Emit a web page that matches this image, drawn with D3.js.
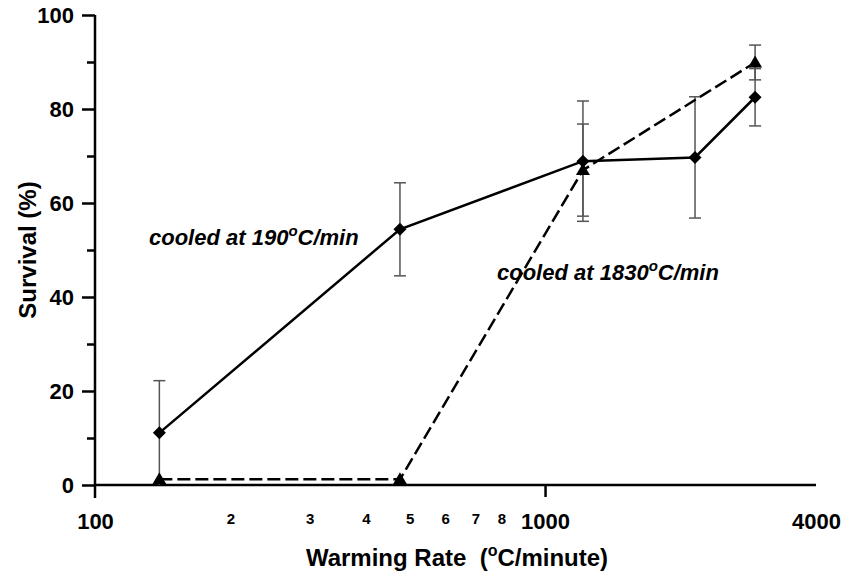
<!DOCTYPE html>
<html>
<head>
<meta charset="utf-8">
<script src="https://cdn.jsdelivr.net/npm/d3@7"></script>
<style>
  body { margin: 0; background: #fff; }
  svg text { font-family: "Liberation Sans", Arial, sans-serif; font-weight: bold; fill: #000; }
</style>
</head>
<body>
<div id="chart"></div>
<script>
// data
var rates190 = [139, 476, 1214, 2154, 2929];
var survival190 = [11.1, 54.4, 68.9, 69.7, 82.5];
var err190 = [11.1, 9.9, 12.8, 12.9, 6.1];

var rates1830 = [139, 476, 1214, 2929];
var survival1830 = [1.2, 1.2, 67, 89.9];
var err1830 = [0, 0, 9.8, 3.7];

var yTicks = [0, 20, 40, 60, 80, 100];
var yMinor = [10, 30, 50, 70, 90];
var xTicks = [100, 200, 300, 400, 500, 600, 700, 800, 1000, 4000];
var xLabels = ["100", "2", "3", "4", "5", "6", "7", "8", "1000", "4000"];

var svgWidth = 846;
var svgHeight = 581;

var svg = d3.select("#chart")
  .append("svg")
  .attr("width", svgWidth)
  .attr("height", svgHeight);

var xScale = d3.scaleLog()
  .domain([100, 4000])
  .range([95, 816]);

var yScale = d3.scaleLinear()
  .domain([0, 100])
  .range([485, 15]);

// y axis
var leftAxis = d3.axisLeft(yScale)
  .tickValues(yTicks)
  .tickSize(13)
  .tickSizeOuter(0)
  .tickPadding(8);

var yAxis = svg.append("g")
  .attr("transform", "translate(95,0)")
  .call(leftAxis);
yAxis.select(".domain").remove();
yAxis.selectAll("line").attr("stroke-width", 2.5);
yAxis.selectAll("text").style("font-size", "22px");

svg.append("g")
  .attr("transform", "translate(95,0)")
  .call(d3.axisLeft(yScale).tickValues(yMinor).tickSize(8).tickFormat(""))
  .call(g => g.select(".domain").remove())
  .selectAll("line").attr("stroke-width", 2.5);

svg.append("line")
  .attr("x1", 95).attr("x2", 95)
  .attr("y1", yScale(100)).attr("y2", yScale(0) + 13)
  .attr("stroke", "#000").attr("stroke-width", 2.5);

// x axis
svg.append("line")
  .attr("x1", xScale(100)).attr("x2", xScale(4000))
  .attr("y1", yScale(0)).attr("y2", yScale(0))
  .attr("stroke", "#000").attr("stroke-width", 2.5);

svg.append("g")
  .attr("transform", `translate(0,${yScale(0)})`)
  .call(d3.axisBottom(xScale).tickValues([1000]).tickSize(12).tickFormat(""))
  .call(g => g.select(".domain").remove())
  .selectAll("line").attr("stroke-width", 2.5);

var xAxis = svg.append("g")
  .attr("transform", `translate(0,${yScale(0)})`)
  .call(d3.axisBottom(xScale)
    .tickValues(xTicks)
    .tickSize(0)
    .tickPadding(28)
    .tickFormat((d, i) => xLabels[i]));
xAxis.select(".domain").remove();
xAxis.selectAll("text")
  .style("font-size", (d, i) => xLabels[i].length > 1 ? "22px" : "15px");

// axis titles
svg.append("text")
  .attr("transform", "translate(36,250) rotate(-90)")
  .attr("text-anchor", "middle")
  .style("font-size", "24px")
  .text("Survival (%)");

var xTitle = svg.append("text")
  .attr("x", 457)
  .attr("y", 566)
  .attr("text-anchor", "middle")
  .attr("xml:space", "preserve")
  .style("font-size", "24px");
xTitle.append("tspan").text("Warming Rate  (");
xTitle.append("tspan").attr("dy", -10).style("font-size", "16px").text("o");
xTitle.append("tspan").attr("dy", 10).text("C/minute)");

// error bars
function drawErrors(rates, vals, errs) {
  var g = svg.append("g");
  rates.forEach(function(r, i) {
    if (errs[i] <= 0) return;
    var x = xScale(r);
    var top = yScale(vals[i] + errs[i]);
    var bot = yScale(Math.max(0, vals[i] - errs[i]));
    g.append("line").attr("x1", x).attr("x2", x).attr("y1", top).attr("y2", bot)
      .attr("stroke", "#555").attr("stroke-width", 1.5);
    g.append("line").attr("x1", x - 6).attr("x2", x + 6).attr("y1", top).attr("y2", top)
      .attr("stroke", "#555").attr("stroke-width", 1.5);
    if (vals[i] - errs[i] > 0.5) {
      g.append("line").attr("x1", x - 6).attr("x2", x + 6).attr("y1", bot).attr("y2", bot)
        .attr("stroke", "#555").attr("stroke-width", 1.5);
    }
  });
}
drawErrors(rates190, survival190, err190);
drawErrors(rates1830, survival1830, err1830);

var line = d3.line()
  .x(d => xScale(d[0]))
  .y(d => yScale(d[1]));

var pts190 = rates190.map((r, i) => [r, survival190[i]]);
var pts1830 = rates1830.map((r, i) => [r, survival1830[i]]);

svg.append("path")
  .datum(pts1830)
  .attr("d", line)
  .attr("fill", "none")
  .attr("stroke", "#000")
  .attr("stroke-width", 2.5)
  .attr("stroke-dasharray", "13,5");

svg.append("path")
  .datum(pts190)
  .attr("d", line)
  .attr("fill", "none")
  .attr("stroke", "#000")
  .attr("stroke-width", 2.5);

// markers
svg.selectAll(".tri")
  .data(pts1830)
  .enter()
  .append("path")
  .attr("class", "tri")
  .attr("transform", d => `translate(${xScale(d[0])},${yScale(d[1])})`)
  .attr("d", "M0,-7L7,5L-7,5Z")
  .attr("fill", "#000");

svg.selectAll(".dia")
  .data(pts190)
  .enter()
  .append("path")
  .attr("class", "dia")
  .attr("transform", d => `translate(${xScale(d[0])},${yScale(d[1])})`)
  .attr("d", "M0,-6.5L6.5,0L0,6.5L-6.5,0Z")
  .attr("fill", "#000");

// annotations
function note(x, y, main, tail) {
  var t = svg.append("text")
    .attr("x", x).attr("y", y)
    .style("font-size", "22px")
    .style("font-style", "italic");
  t.append("tspan").text(main);
  t.append("tspan").attr("dy", -9).style("font-size", "15px").text("o");
  t.append("tspan").attr("dy", 9).text(tail);
}
note(149, 245, "cooled at 190", "C/min");
note(497, 280, "cooled at 1830", "C/min");
</script>
</body>
</html>
